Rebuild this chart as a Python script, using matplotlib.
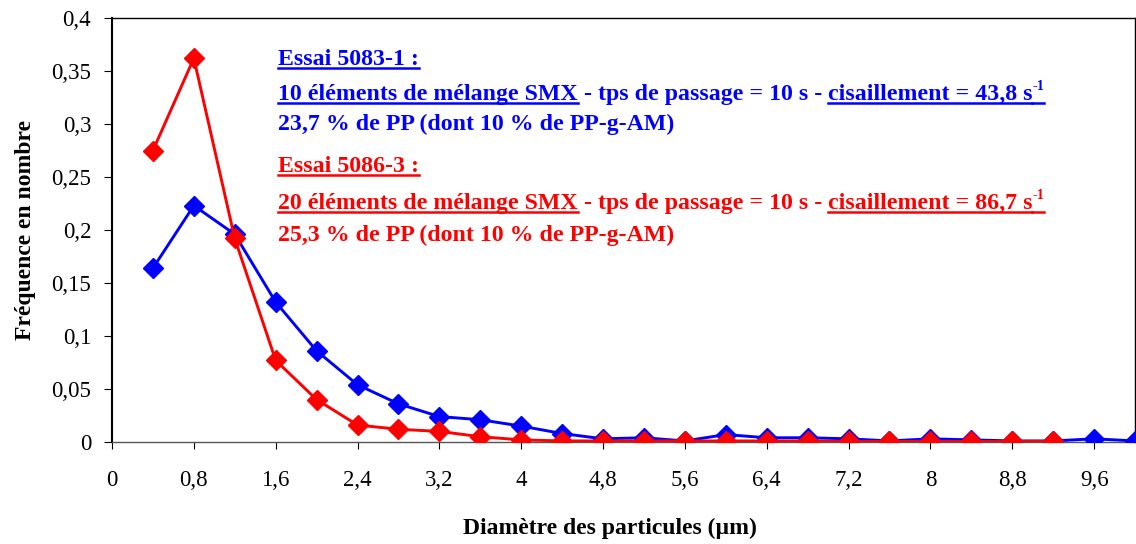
import numpy as np
import matplotlib
matplotlib.use("Agg")
import matplotlib.pyplot as plt
from matplotlib.lines import Line2D

# diametre des particules (um)
diam_blue = [0.4, 0.8, 1.2, 1.6, 2.0, 2.4, 2.8, 3.2, 3.6, 4.0, 4.4, 4.8, 5.2,
             5.6, 6.0, 6.4, 6.8, 7.2, 7.6, 8.0, 8.4, 8.8, 9.2, 9.6, 10.0]
freq_blue = [0.164, 0.223, 0.196, 0.132, 0.086, 0.054, 0.036, 0.024, 0.021,
             0.015, 0.008, 0.003, 0.004, 0.001, 0.007, 0.004, 0.004, 0.003,
             0.001, 0.003, 0.002, 0.001, 0.001, 0.003, 0.001]
diam_red = [0.4, 0.8, 1.2, 1.6, 2.0, 2.4, 2.8, 3.2, 3.6, 4.0, 4.4, 4.8, 5.2,
            5.6, 6.0, 6.4, 6.8, 7.2, 7.6, 8.0, 8.4, 8.8, 9.2]
freq_red = [0.275, 0.362, 0.192, 0.077, 0.040, 0.016, 0.012, 0.010, 0.005,
            0.002, 0.001, 0.001, 0.001, 0.001, 0.001, 0.001, 0.001, 0.0005,
            0.0005, 0.0005, 0.0005, 0.0005, 0.0005]

xticks = [0, 0.8, 1.6, 2.4, 3.2, 4, 4.8, 5.6, 6.4, 7.2, 8, 8.8, 9.6]
yticks = [0, 0.05, 0.1, 0.15, 0.2, 0.25, 0.3, 0.35, 0.4]

# (texte, souligne, exposant)
blue_lines = [
    [("Essai 5083-1 :", True, False)],
    [("10 éléments de mélange SMX", True, False), (" - tps de passage = 10 s - ", False, False),
     ("cisaillement = 43,8 s", True, False), ("-1", True, True)],
    [("23,7 % de PP (dont 10 % de PP-g-AM)", False, False)],
]
red_lines = [
    [("Essai 5086-3 :", True, False)],
    [("20 éléments de mélange SMX", True, False), (" - tps de passage = 10 s - ", False, False),
     ("cisaillement = 86,7 s", True, False), ("-1", True, True)],
    [("25,3 % de PP (dont 10 % de PP-g-AM)", False, False)],
]

W, H = 1136, 544
plt.rcParams['font.family'] = 'Liberation Serif'
fig = plt.figure(figsize=(W / 100, H / 100), dpi=100)
ax = fig.add_axes([112 / W, (H - 442) / H, (1135 - 112) / W, (442 - 18) / H])

blue = '#0000ff'
red = '#ff0000'
ax.plot(diam_blue, freq_blue, color=blue, lw=2.1, marker='D', ms=10, zorder=3)
ax.plot(diam_red, freq_red, color=red, lw=2.1, marker='D', ms=10, zorder=4)

ax.set_xlim(0, 10)
ax.set_ylim(0, 0.4)
ax.set_xticks(xticks)
ax.set_xticklabels([("%g" % v).replace('.', ',') for v in xticks])
ax.set_yticks(yticks)
ax.set_yticklabels([("%g" % v).replace('.', ',') for v in yticks])
ax.tick_params(axis='x', direction='out', length=5, pad=15, labelsize=16.5)
ax.tick_params(axis='y', direction='out', length=6, pad=9, labelsize=16.5)
for s in ax.spines.values():
    s.set_linewidth(1.0)
ax.spines['left'].set_linewidth(1.5)
ax.spines['bottom'].set_color('#555555')

ax.set_ylabel("Fréquence en nombre", fontsize=17, fontweight='bold', labelpad=11)
ax.set_xlabel("Diamètre des particules (µm)", fontsize=17, fontweight='bold')
ax.xaxis.set_label_coords(0.487, -0.178)

renderer = fig.canvas.get_renderer()


def write_line(x0, ybase, segments, color, size=17.2):
    x = x0
    for txt, under, sup in segments:
        fs = size * 0.6 if sup else size
        y = ybase - (10 if sup else 0)
        t = fig.text(x / W, (H - y) / H, txt, fontsize=fs, fontweight='bold',
                     color=color, va='baseline', ha='left')
        bb = t.get_window_extent(renderer)
        x_end = bb.x1
        if under:
            yl = (H - ybase - 3) / H
            fig.add_artist(Line2D([x / W, x_end / W], [yl, yl], transform=fig.transFigure,
                                  color=color, lw=1.8))
        x = x_end


ys_blue = [65, 100, 130]
ys_red = [172, 209, 241]
for segs, y in zip(blue_lines, ys_blue):
    write_line(278, y, segs, blue)
for segs, y in zip(red_lines, ys_red):
    write_line(278, y, segs, red)

fig.savefig("out.png", dpi=100)
